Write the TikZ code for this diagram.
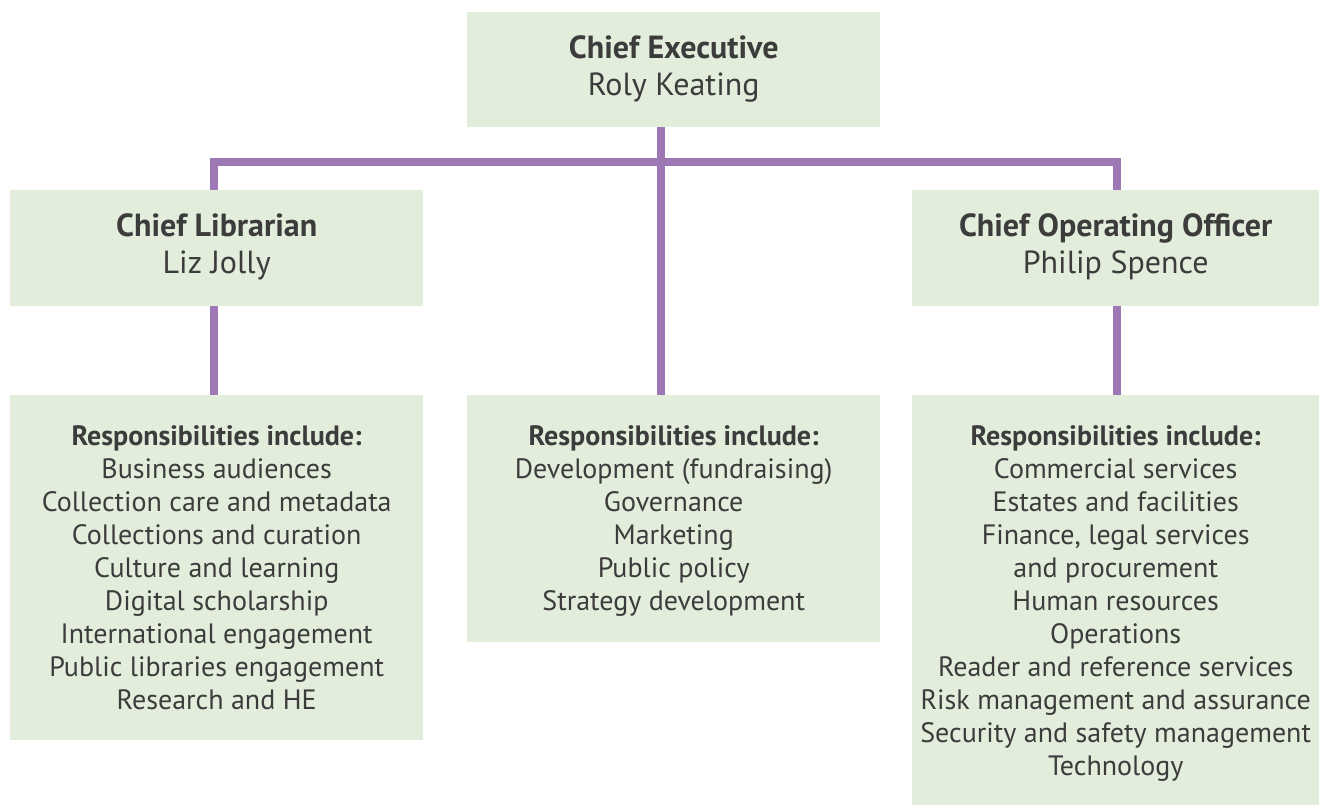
\documentclass[tikz,border=0pt]{standalone}
\usepackage{fontspec}
\setmainfont{PT Sans}
\usepackage{tikz}
\usetikzlibrary{positioning}
\definecolor{boxgreen}{HTML}{E2EEDB}
\definecolor{linkpurple}{HTML}{9E78B5}
\definecolor{inkgrey}{HTML}{3C3C3C}
\tikzstyle{link} = [line width=8pt, draw=linkpurple]
\tikzstyle{panel} = [fill=boxgreen, draw=none, rectangle, anchor=north west, inner sep=0pt]
\tikzstyle{headtxt} = [text=inkgrey, align=center, font=\fontsize{32}{37}\selectfont]
\tikzstyle{bodytxt} = [text=inkgrey, align=center, anchor=north, inner sep=0pt, font=\fontsize{28}{33}\selectfont]

\begin{document}
\begin{tikzpicture}[x=1pt, y=-1pt]
		\useasboundingbox (0,0) rectangle (1319,805);
		% boxes
		\node (ce) [panel, minimum width=413pt, minimum height=115pt] at (467,12) {};
		\node (lh) [panel, minimum width=413pt, minimum height=116pt] at (10,190) {};
		\node (rh) [panel, minimum width=407pt, minimum height=116pt] at (912,190) {};
		\node (lb) [panel, minimum width=413pt, minimum height=345pt] at (10,395) {};
		\node (mb) [panel, minimum width=413pt, minimum height=247pt] at (467,395) {};
		\node (rb) [panel, minimum width=407pt, minimum height=410pt] at (912,395) {};
		% connectors
		\coordinate (bus) at (661,162);
		\coordinate (lbus) at (214,162);
		\coordinate (rbus) at (1117,162);
		\draw [link] (bus |- ce.south) -- (bus |- mb.north);
		\draw [link] (lbus |- lh.north) -- (lbus) -- (rbus) -- (rbus |- rh.north);
		\draw [link] (lbus |- lh.south) -- (lbus |- lb.north);
		\draw [link] (rbus |- rh.south) -- (rbus |- rb.north);
		% head texts
		\node (cet) [headtxt] at ([yshift=1pt]ce.center) {\textbf{Chief Executive}\\Roly Keating};
		\node (lht) [headtxt] at ([yshift=1pt]lh.center) {\textbf{Chief Librarian}\\Liz Jolly};
		\node (rht) [headtxt] at ([yshift=1pt]rh.center) {\textbf{Chief Operating Officer}\\Philip Spence};
		% responsibilities
		\node (lbt) [bodytxt, below=30pt of lb.north] {\textbf{Responsibilities include:}\\
			Business audiences\\Collection care and metadata\\Collections and curation\\
			Culture and learning\\Digital scholarship\\International engagement\\
			Public libraries engagement\\Research and HE};
		\node (mbt) [bodytxt, below=30pt of mb.north] {\textbf{Responsibilities include:}\\
			Development (fundraising)\\Governance\\Marketing\\Public policy\\Strategy development};
		\node (rbt) [bodytxt, below=30pt of rb.north] {\textbf{Responsibilities include:}\\
			Commercial services\\Estates and facilities\\Finance, legal services\\and procurement\\
			Human resources\\Operations\\Reader and reference services\\
			Risk management and assurance\\Security and safety management\\Technology};
\end{tikzpicture}
\end{document}
